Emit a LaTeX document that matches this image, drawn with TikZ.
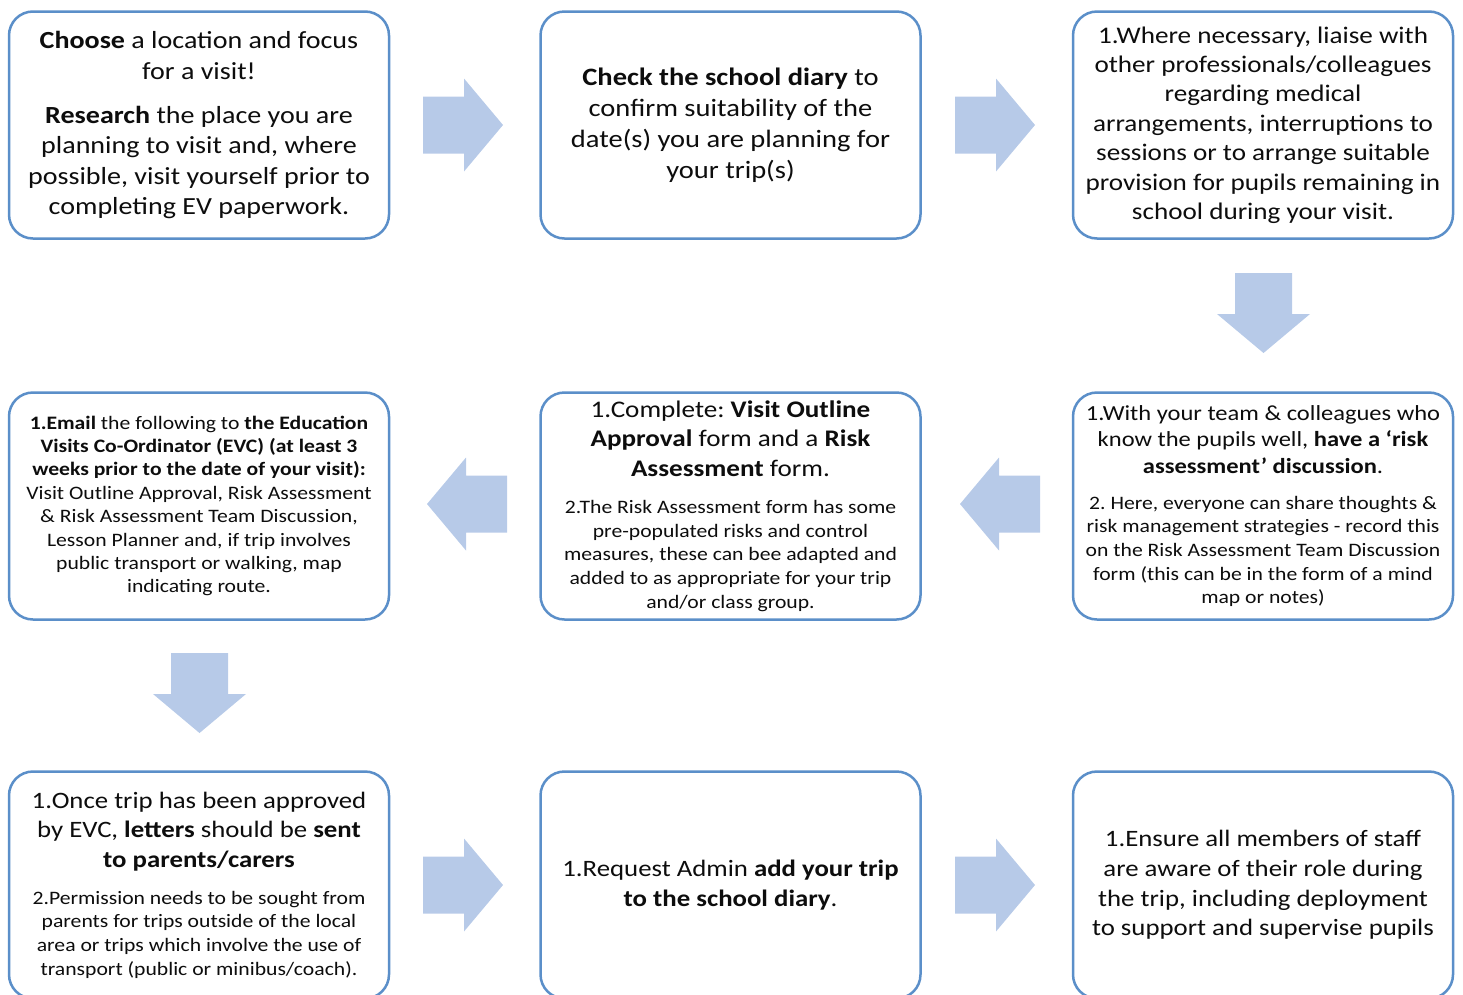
\documentclass[tikz,border=0pt]{standalone}
\usepackage{fontspec}
\setmainfont{Carlito}[FakeStretch=1.14]
\definecolor{boxline}{RGB}{91,143,201}
\definecolor{arrowfill}{RGB}{183,202,232}
\newcommand\smp{\fontsize{19}{23.7}\selectfont}
\frenchspacing
\begin{document}
\begin{tikzpicture}[x=1pt,y=1pt,
  stepbox/.style={draw=boxline, line width=2.5pt, rounded corners=24pt, fill=white,
    minimum width=380pt, minimum height=227pt, inner sep=0pt, align=center,
    text=black!95, font=\frenchspacing\fontsize{23.6}{29.5}\selectfont},
  blockarrow/.pic={\fill[arrowfill] (-40,-28.5) -- (1,-28.5) -- (1,-46.5) -- (40,0)
      -- (1,46.5) -- (1,28.5) -- (-40,28.5) -- cycle;}]
\useasboundingbox (0,0) rectangle (1463,-994);

% Row 1
\node[stepbox, font=\frenchspacing\fontsize{24.6}{30.5}\selectfont] (b1) at (199,-125) {%
  \textbf{Choose} a location and focus\\ for a visit!\\[13.5pt]
  \textbf{Research} the place you are\\ planning to visit and, where\\
  possible, visit yourself prior to\\ completing EV paperwork.};
\node[stepbox, font=\frenchspacing\fontsize{25}{31}\selectfont] (b2) at (730.5,-125) {%
  \textbf{Check the school diary} to\\ confirm suitability of the\\
  date(s) you are planning for\\ your trip(s)};
\node[stepbox, font=\frenchspacing\fontsize{23.8}{29.4}\selectfont] (b3) at (1263,-125) {%
  1.Where necessary, liaise with\\ other professionals/colleagues\\ regarding medical\\
  arrangements, interruptions to\\ sessions or to arrange suitable\\
  provision for pupils remaining in\\ school during your visit.};

% Row 2
\node[stepbox, font=\frenchspacing\fontsize{21.5}{23.7}\selectfont] (b4) at (1263,-506) {%
  1.With your team \& colleagues who\\[2.8pt] know the pupils well, \textbf{have a ‘risk}\\[2.8pt]
  \textbf{assessment’ discussion}.\\[12.3pt]
  \smp 2. Here, everyone can share thoughts \&\\
  \smp risk management strategies - record this\\
  \smp on the Risk Assessment Team Discussion\\
  \smp form (this can be in the form of a mind\\
  \smp map or notes)};
\node[stepbox, font=\frenchspacing\fontsize{23.8}{23.7}\selectfont] (b5) at (730.5,-506) {%
  1.Complete: \textbf{Visit Outline}\\[5.8pt] \textbf{Approval} form and a \textbf{Risk}\\[5.8pt]
  \textbf{Assessment} form.\\[13.3pt]
  \smp 2.The Risk Assessment form has some\\
  \smp pre-populated risks and control\\
  \smp measures, these can bee adapted and\\
  \smp added to as appropriate for your trip\\
  \smp and/or class group.};
\node[stepbox, font=\frenchspacing\fontsize{19}{23.4}\selectfont] (b6) at (199,-506) {%
  \textbf{1.Email} the following to \textbf{the Education}\\
  \textbf{Visits Co-Ordinator (EVC) (at least 3}\\
  \textbf{weeks prior to the date of your visit):}\\
  Visit Outline Approval, Risk Assessment\\ \& Risk Assessment Team Discussion,\\
  Lesson Planner and, if trip involves\\ public transport or walking, map\\
  indicating route.};

% Row 3
\node[stepbox, font=\frenchspacing\fontsize{23.5}{23.7}\selectfont] (b7) at (199,-885) {%
  1.Once trip has been approved\\[5.8pt] by EVC, \textbf{letters} should be \textbf{sent}\\[5.8pt]
  \textbf{to parents/carers}\\[13.3pt]
  \smp 2.Permission needs to be sought from\\
  \smp parents for trips outside of the local\\
  \smp area or trips which involve the use of\\
  \smp transport (public or minibus/coach).};
\node[stepbox, font=\frenchspacing\fontsize{23.5}{29.5}\selectfont] (b8) at (730.5,-885) {%
  1.Request Admin \textbf{add your trip}\\ \textbf{to the school diary}.};
\node[stepbox, font=\frenchspacing\fontsize{23.5}{29.7}\selectfont] (b9) at (1263,-885) {%
  1.Ensure all members of staff\\ are aware of their role during\\
  the trip, including deployment\\ to support and supervise pupils};

% Block arrows
\pic at (463,-125) {blockarrow};
\pic at (995,-125) {blockarrow};
\pic[rotate=-90] at (1263.5,-313) {blockarrow};
\pic[rotate=180] at (1000,-504) {blockarrow};
\pic[rotate=180] at (467,-504) {blockarrow};
\pic[rotate=-90] at (199.5,-693) {blockarrow};
\pic at (463,-885) {blockarrow};
\pic at (995,-885) {blockarrow};
\end{tikzpicture}
\end{document}
